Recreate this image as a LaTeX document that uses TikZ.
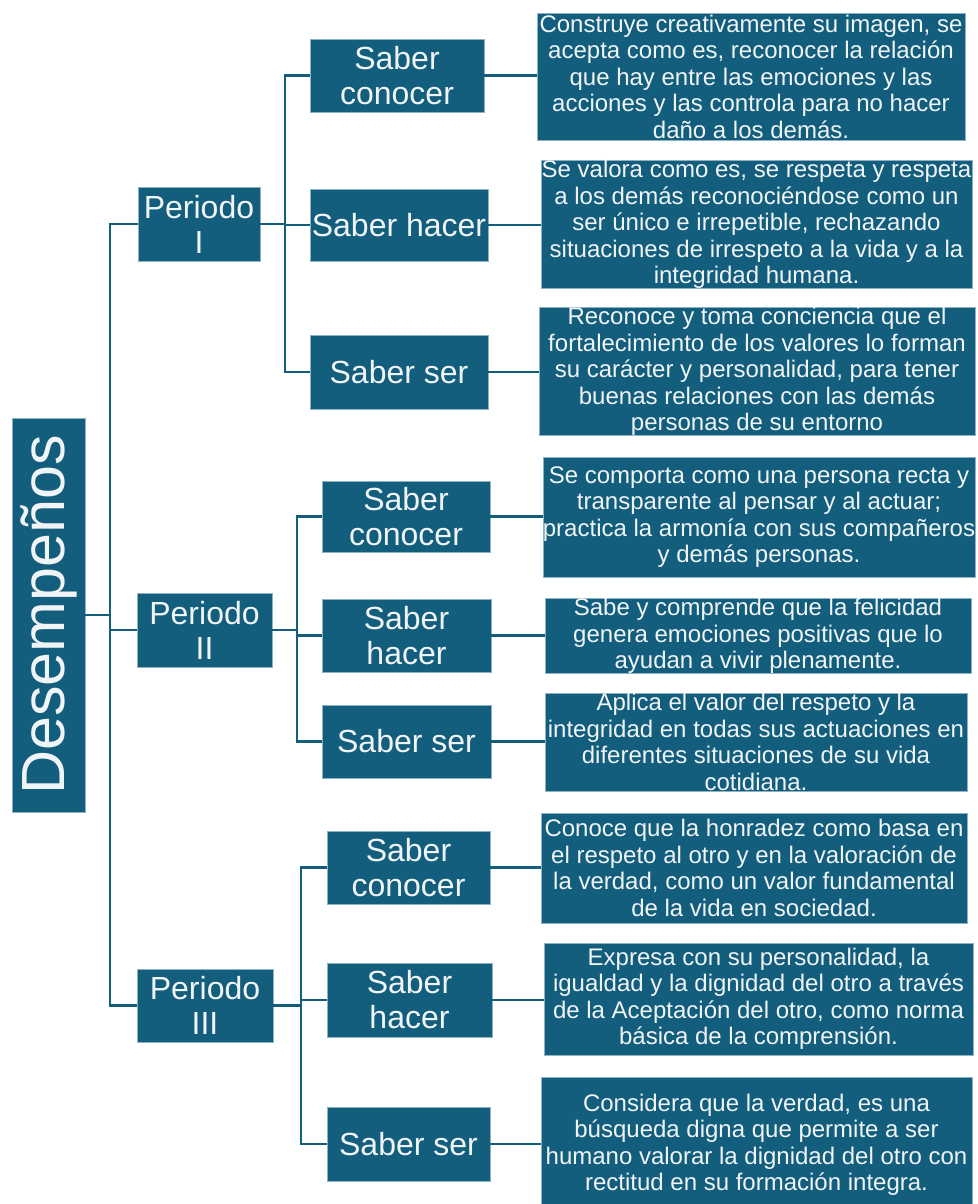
\documentclass[tikz,border=0pt]{standalone}
\usepackage{fontspec}
\setmainfont{Liberation Sans}
\definecolor{boxc}{RGB}{19,94,125}
\definecolor{edgec}{RGB}{140,178,196}
\definecolor{txtc}{RGB}{240,244,246}
\begin{document}
\begin{tikzpicture}[x=1pt,y=-1pt,
  base/.style={rectangle,fill=boxc,draw=edgec,line width=0.8pt,inner sep=0pt,
    text=txtc,align=center},
  big/.style={base,font=\fontsize{32}{35}\selectfont},
  desc/.style={base,font=\fontsize{24}{26.5}\selectfont},
  link/.style={draw=boxc,line width=2.6pt}]
\useasboundingbox (0,0) rectangle (977,1204);
% root
\node[base,rotate=90,minimum width=394,minimum height=73,
  font=\fontsize{61}{61}\selectfont] (des) at (48.5,615) {Desempeños};
% periods
\node[big,minimum width=122,minimum height=74] (p1) at (199,224) {Periodo\\I};
\node[big,minimum width=135,minimum height=74] (p2) at (204.5,630) {Periodo\\II};
\node[big,minimum width=136,minimum height=73] (p3) at (205,1005.5) {Periodo\\III};
% saber nodes
\node[big,minimum width=174,minimum height=73] (s11) at (397,75.5) {Saber\\conocer};
\node[big,minimum width=178,minimum height=72] (s12) at (399,225) {Saber hacer};
\node[big,minimum width=178,minimum height=74] (s13) at (399,372) {Saber ser};
\node[big,minimum width=168,minimum height=71] (s21) at (406,516.5) {Saber\\conocer};
\node[big,minimum width=169,minimum height=73] (s22) at (406.5,635.5) {Saber\\hacer};
\node[big,minimum width=169,minimum height=73] (s23) at (406.5,741.5) {Saber ser};
\node[big,minimum width=163,minimum height=73] (s31) at (408.5,867.5) {Saber\\conocer};
\node[big,minimum width=165,minimum height=74] (s32) at (409.5,1000) {Saber\\hacer};
\node[big,minimum width=163,minimum height=74] (s33) at (408.5,1144) {Saber ser};
% descriptions
\node[desc,minimum width=428,minimum height=127] (d11) at (751,76.5)
 {Construye creativamente su imagen, se\\acepta como es, reconocer la relación\\que hay entre las emociones y las\\acciones y las controla para no hacer\\daño a los demás.};
\node[desc,minimum width=431,minimum height=127] (d12) at (756.5,224.5)
 {Se valora como es, se respeta y respeta\\a los demás reconociéndose como un\\ser único e irrepetible, rechazando\\situaciones de irrespeto a la vida y a la\\integridad humana.};
\node[desc,minimum width=436,minimum height=125] (d13) at (757,371.5)
 {Reconoce y toma conciencia que el\\fortalecimiento de los valores lo forman\\su carácter y personalidad, para tener\\buenas relaciones con las demás\\personas de su entorno};
\node[desc,minimum width=432,minimum height=120] (d21) at (759,517)
 {Se comporta como una persona recta y\\transparente al pensar y al actuar;\\practica la armonía con sus compañeros\\y demás personas.};
\node[desc,minimum width=426,minimum height=74] (d22) at (758,636)
 {Sabe y comprende que la felicidad\\genera emociones positivas que lo\\ayudan a vivir plenamente.};
\node[desc,minimum width=422,minimum height=98] (d23) at (756,742)
 {Aplica el valor del respeto y la\\integridad en todas sus actuaciones en\\diferentes situaciones de su vida\\cotidiana.};
\node[desc,minimum width=426,minimum height=110] (d31) at (754,868)
 {Conoce que la honradez como basa en\\el respeto al otro y en la valoración de\\la verdad, como un valor fundamental\\de la vida en sociedad.};
\node[desc,minimum width=429,minimum height=112] (d32) at (758.5,999)
 {Expresa con su personalidad, la\\igualdad y la dignidad del otro a través\\de la Aceptación del otro, como norma\\básica de la comprensión.};
\node[desc,minimum width=431,minimum height=136] (d33) at (756.5,1145)
 {Considera que la verdad, es una\\búsqueda digna que permite a ser\\humano valorar la dignidad del otro con\\rectitud en su formación integra.};
% bus coordinates
\coordinate (b0) at (110,0);
\coordinate (b1) at (285,0);
\coordinate (b2) at (297,0);
\coordinate (b3) at (301,0);
% root connectors
\draw[link] (des.south) -- (des.south -| b0);
\draw[link] (p1.west) -- (p1.west -| b0) -- (p3.west -| b0) -- (p3.west);
\draw[link] (p2.west -| b0) -- (p2.west);
% period I
\draw[link] (p1.east) -- (p1.east -| b1);
\draw[link] (s11.west) -- (s11.west -| b1) -- (s13.west -| b1) -- (s13.west);
\draw[link] (s12.west -| b1) -- (s12.west);
% period II
\draw[link] (p2.east) -- (p2.east -| b2);
\draw[link] (s21.west) -- (s21.west -| b2) -- (s23.west -| b2) -- (s23.west);
\draw[link] (s22.west -| b2) -- (s22.west);
% period III
\draw[link] (p3.east) -- (p3.east -| b3);
\draw[link] (s31.west) -- (s31.west -| b3) -- (s33.west -| b3) -- (s33.west);
\draw[link] (s32.west -| b3) -- (s32.west);
% saber to descriptions
\foreach \s/\d in {s11/d11,s12/d12,s13/d13,s21/d21,s22/d22,s23/d23,s31/d31,s32/d32,s33/d33}
  \draw[link] (\s.east) -- (\s.east -| \d.west);
\end{tikzpicture}
\end{document}
